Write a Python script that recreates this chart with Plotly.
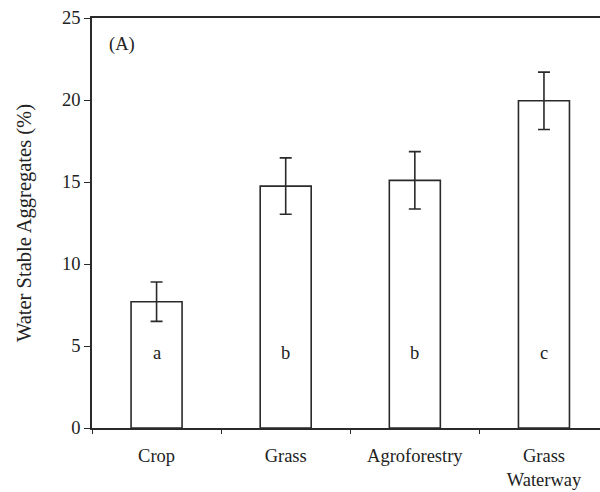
import plotly.graph_objects as go

# Water stable aggregates by land use, mean ± error
categories = ["Crop", "Grass", "Agroforestry", "Grass<br>Waterway"]
wsa_mean = [7.7, 14.75, 15.1, 19.95]
wsa_err = [1.2, 1.72, 1.75, 1.75]
group_letters = ["a", "b", "b", "c"]
letter_y = [4.6, 4.6, 4.6, 4.6]
y_ticks = [0, 5, 10, 15, 20, 25]

FONT = "Liberation Serif, Times New Roman, serif"
LINE = "#2a2a2a"
FS = 18.5

fig = go.Figure()
fig.add_trace(go.Bar(
    x=categories,
    y=wsa_mean,
    width=0.395,
    marker=dict(color="white", line=dict(color=LINE, width=1.6)),
    error_y=dict(type="data", array=wsa_err, visible=True,
                 color=LINE, thickness=1.6, width=6),
    showlegend=False,
))

for cat, txt, yy in zip(categories, group_letters, letter_y):
    fig.add_annotation(x=cat, y=yy, text=txt, showarrow=False,
                       font=dict(family=FONT, size=FS, color="#222"))

fig.add_annotation(xref="paper", yref="paper", x=0.03, y=0.935,
                   xanchor="left", yanchor="middle", text="(A)",
                   showarrow=False, font=dict(family=FONT, size=FS, color="#222"))

fig.update_layout(
    width=600, height=492,
    margin=dict(l=92, r=0, t=18, b=64),
    plot_bgcolor="white", paper_bgcolor="white",
    font=dict(family=FONT, size=FS, color="#222"),
)
fig.update_xaxes(
    type="category",
    range=[-0.5, 3.434],
    tickson="boundaries",
    ticks="outside", ticklen=4, tickwidth=1.2, tickcolor=LINE,
    ticklabelstandoff=10,
    showline=True, linecolor=LINE, linewidth=1.6, mirror=True,
    showgrid=False, zeroline=False,
    tickfont=dict(family=FONT, size=FS, color="#222"),
)
fig.update_yaxes(
    range=[0, 25],
    tickvals=y_ticks,
    ticks="outside", ticklen=6, tickwidth=1.2, tickcolor=LINE,
    showline=True, linecolor=LINE, linewidth=1.6,
    showgrid=False, zeroline=False,
    tickfont=dict(family=FONT, size=FS, color="#222"),
    title=dict(text="Water Stable Aggregates (%)", standoff=25,
               font=dict(family=FONT, size=20.5, color="#222")),
)

fig.write_html("out.html")
